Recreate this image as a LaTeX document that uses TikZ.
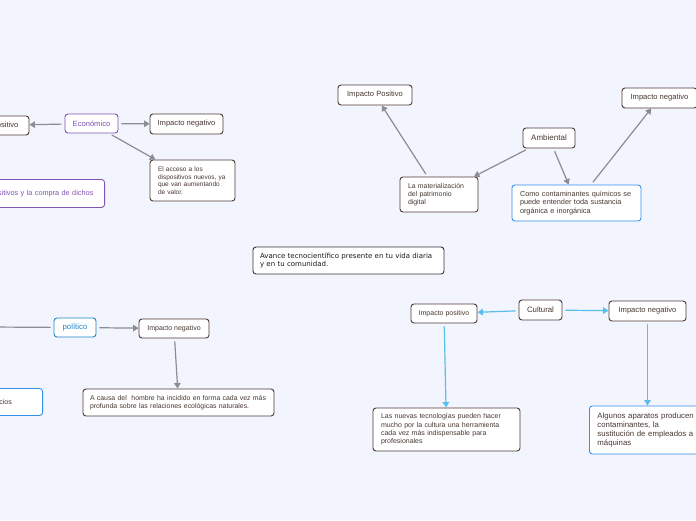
\documentclass[tikz,border=0pt]{standalone}
\usepackage{fontspec}
\setmainfont{Liberation Sans}
\newfontfamily\verdanafont{DejaVu Sans}
\usetikzlibrary{arrows.meta}
\definecolor{bgcol}{RGB}{242,244,254}
\definecolor{boxbrown}{RGB}{78,58,52}
\definecolor{txtbrown}{RGB}{72,56,50}
\definecolor{mapviolet}{RGB}{128,84,180}
\definecolor{mapblue}{RGB}{52,144,235}
\definecolor{polblue}{RGB}{30,134,198}
\definecolor{linegray}{RGB}{140,140,146}
\definecolor{lineblue}{RGB}{90,190,235}
\tikzset{
  box/.style={draw=boxbrown,fill=white,rounded corners=3pt,line width=0.9pt,
    text=txtbrown,inner sep=0pt,font=\fontsize{7.6}{9}\selectfont},
  note/.style={box,align=left,inner xsep=8pt,font=\fontsize{6.9}{8.3}\selectfont},
  grayline/.style={draw=linegray,line width=1.2pt,shorten <=3pt,shorten >=3pt},
  grayarr/.style={draw=linegray,line width=1.2pt,-{Triangle[length=5.5pt,width=6.5pt]},shorten <=3pt},
  bluearr/.style={grayarr,draw=lineblue},
}

\begin{document}
\begin{tikzpicture}[x=1pt,y=-1pt]
  \useasboundingbox (0,0) rectangle (696,520);
  \fill[bgcol] (0,0) rectangle (696,520);

  \node[box,draw=mapviolet,text=mapviolet,minimum width=53pt,minimum height=19pt] (econ) at (91.5,123.5) {Económico};
  \node[box,minimum width=76pt,minimum height=19pt] (econpos) at (-9,125.5) {Impacto positivo};
  \node[box,minimum width=73pt,minimum height=20pt] (econneg) at (186.5,124) {Impacto negativo};
  \node[note,text width=69pt,minimum height=41pt,font=\fontsize{6.5}{7.6}\selectfont] (acceso) at (192.5,180.5)
    {El acceso a los\\dispositivos nuevos, ya\\que van aumentando\\de valor.};
  \node[note,draw=mapviolet,text=mapviolet,anchor=north east,text width=116pt,minimum height=28pt,
    font=\fontsize{7.3}{8.5}\selectfont] (econnote) at (105,179) {dispositivos y la compra de dichos};

  \node[box,minimum width=74pt,minimum height=20pt] (ambpos) at (375,95) {Impacto Positivo};
  \node[box,minimum width=52pt,minimum height=20pt,font=\fontsize{8}{9}\selectfont] (amb) at (549,138) {Ambiental};
  \node[box,minimum width=75pt,minimum height=20pt] (ambneg) at (659.5,98) {Impacto negativo};
  \node[note,text width=62pt,minimum height=35pt,font=\fontsize{6.9}{8}\selectfont] (mater) at (439,194.5)
    {La materialización\\del patrimonio\\digital};
  \node[note,draw=mapblue,text width=113pt,minimum height=36pt,font=\fontsize{7.3}{8.3}\selectfont] (como) at (576.5,203)
    {Como contaminantes químicos se\\puede entender toda sustancia\\orgánica e inorgánica};

  \node[note,draw=black!80,text=black!90,text width=177pt,inner xsep=7pt,minimum height=27pt,font=\verdanafont\fontsize{7}{8.6}\selectfont] (avance) at (348.5,260.5)
    {Avance tecnocientífico presente en tu vida diaria\\y en tu comunidad.};

  \coordinate (polin) at (-10,327);
  \node[box,draw=polblue,text=polblue,minimum width=42pt,minimum height=19pt,font=\fontsize{7.8}{9}\selectfont] (politico) at (75,327.5) {político};
  \node[box,minimum width=70pt,minimum height=19pt,font=\fontsize{7}{8}\selectfont] (polneg) at (174,328.5) {Impacto negativo};
  \node[note,text width=177pt,inner xsep=7pt,minimum height=27pt,font=\fontsize{6.9}{8.3}\selectfont] (acausa) at (178.5,402.5)
    {A causa del~ hombre ha incidido en forma cada vez más\\profunda sobre las relaciones ecológicas naturales.};
  \node[note,draw=mapblue,anchor=north east,text width=50pt,minimum height=27pt,font=\fontsize{7}{8.3}\selectfont] (polnote) at (43,388) {servicios};

  \node[box,minimum width=43pt,minimum height=20pt,font=\fontsize{7.8}{9}\selectfont] (cultural) at (540.5,310) {Cultural};
  \node[box,minimum width=66pt,minimum height=19pt,font=\fontsize{7}{8}\selectfont] (culpos) at (444,313.5) {Impacto positivo};
  \node[box,minimum width=77pt,minimum height=20pt] (culneg) at (647.5,311) {Impacto negativo};
  \node[note,text width=131pt,minimum height=43pt,font=\fontsize{7}{8.3}\selectfont] (nuevas) at (446.5,429.5)
    {Las nuevas tecnologías pueden hacer\\mucho por la cultura una herramienta\\cada vez más indispensable para\\profesionales};
  \node[note,draw=mapblue,anchor=west,text width=104pt,minimum height=48pt,font=\fontsize{7.8}{9}\selectfont] (algunos) at (589,430)
    {Algunos aparatos producen\\contaminantes, la\\sustitución de empleados a\\máquinas};

  \draw[grayarr] (econ) -- (econpos);
  \draw[grayarr] (econ) -- (econneg);
  \draw[grayarr] (econ) -- (acceso);
  \draw[grayarr] (amb) -- (mater);
  \draw[grayarr] (amb) -- (como);
  \draw[grayarr] (mater) -- (ambpos);
  \draw[grayarr] (como) -- (ambneg);
  \draw[grayline] (polin) -- (politico);
  \draw[grayarr] (politico) -- (polneg);
  \draw[grayarr] (polneg) -- (acausa);
  \draw[bluearr] (cultural) -- (culpos);
  \draw[bluearr] (cultural) -- (culneg);
  \draw[bluearr] (culpos) -- (nuevas);
  \draw[bluearr] (culneg) -- (culneg |- algunos.north);
\end{tikzpicture}
\end{document}
